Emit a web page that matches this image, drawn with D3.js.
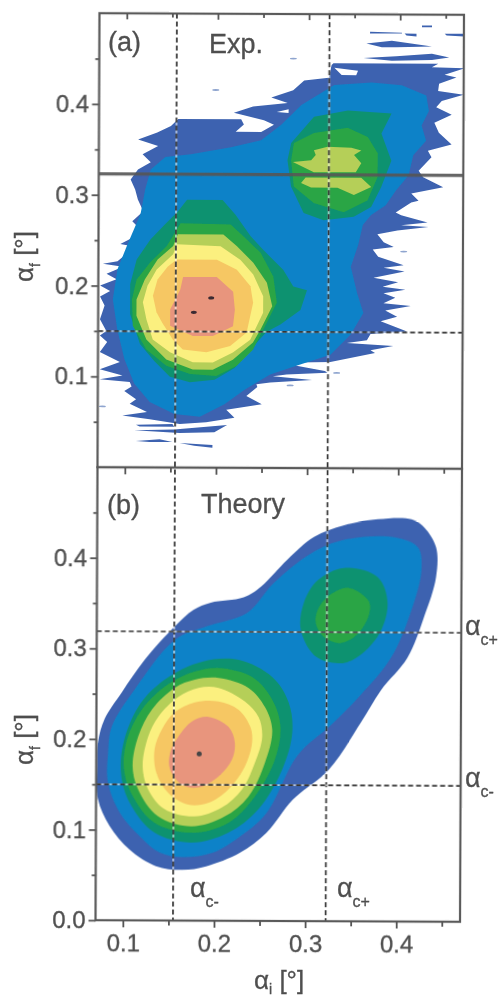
<!DOCTYPE html>
<meta charset="utf-8">
<style>
body { margin: 0; background: #fff; }
text { font-family: 'Liberation Sans', Arial, sans-serif; fill: #4f4f4f; stroke: #4f4f4f; stroke-width: 0.3px; }
.tick text { font-size: 24px; }
.tick line { stroke: #555; stroke-width: 1.8px; }
</style>
<script src="https://d3js.org/d3.v7.min.js"></script>
<div id="my_dataviz"></div>
<script>
// tick values, both panels use the same ones
var majorTicks = [0.1, 0.2, 0.3, 0.4];
var minorTicksX = [0.15, 0.25, 0.35, 0.45];
var yTicksA = [0.1, 0.2, 0.3, 0.4];
var yTicksB = [0.0, 0.1, 0.2, 0.3, 0.4];
var minorTicksY = [0.05, 0.15, 0.25, 0.35, 0.45];

// critical angles
var acMinus = 0.155, acPlus = 0.3225;
var afMinus = 0.150, afPlus = 0.319, afBeam = 0.323;

var expOuter = [[.327,.446],[.442,.446],[.435,.442],[.471,.441],[.449,.434],[.462,.431],[.443,.424],[.442,.416],[.470,.412],[.446,.405],[.440,.398],[.457,.390],[.438,.381],[.443,.370],[.457,.357],[.431,.350],[.435,.343],[.421,.328],[.426,.321],[.448,.310],[.413,.303],[.421,.295],[.413,.293],[.396,.282],[.402,.279],[.431,.271],[.402,.268],[.432,.266],[.398,.262],[.376,.258],[.383,.249],[.394,.244],[.371,.241],[.377,.233],[.405,.224],[.383,.221],[.406,.217],[.372,.210],[.399,.205],[.382,.200],[.407,.197],[.383,.193],[.396,.188],[.383,.182],[.413,.179],[.385,.174],[.398,.167],[.380,.162],[.409,.151],[.369,.148],[.365,.141],[.343,.138],[.394,.135],[.369,.130],[.374,.127],[.325,.117],[.270,.116],[.319,.107],[.322,.105],[.277,.103],[.262,.101],[.305,.097],[.259,.094],[.244,.092],[.245,.089],[.233,.079],[.250,.070],[.211,.064],[.220,.055],[.189,.050],[.160,.048],[.127,.053],[.097,.057],[.124,.061],[.105,.070],[.112,.075],[.099,.084],[.107,.089],[.105,.094],[.072,.097],[.097,.101],[.072,.108],[.094,.116],[.072,.127],[.080,.138],[.072,.145],[.079,.150],[.072,.163],[.077,.178],[.072,.188],[.083,.194],[.072,.200],[.090,.207],[.079,.213],[.097,.221],[.075,.224],[.091,.227],[.110,.243],[.094,.246],[.119,.259],[.107,.271],[.119,.282],[.113,.295],[.110,.306],[.105,.317],[.113,.328],[.127,.336],[.118,.345],[.135,.354],[.113,.361],[.134,.369],[.149,.376],[.157,.384],[.226,.384],[.229,.378],[.220,.370],[.248,.370],[.262,.378],[.251,.383],[.218,.391],[.239,.398],[.277,.402],[.259,.408],[.283,.416],[.295,.427],[.322,.430],[.325,.444]];
var expStreaks = [
  [[.112,.047],[.152,.048],[.154,.045],[.116,.045]],
  [[.110,.041],[.154,.042],[.212,.047],[.198,.039],[.160,.038]],
  [[.112,.029],[.138,.031],[.152,.028],[.127,.028]],
  [[.160,.027],[.196,.025],[.196,.022],[.176,.024]],
  [[.367,.481],[.402,.480],[.402,.479],[.367,.479]],
  [[.405,.479],[.418,.479],[.418,.476],[.407,.477]],
  [[.424,.488],[.435,.488],[.435,.486],[.424,.486]],
  [[.449,.479],[.471,.479],[.471,.476],[.451,.477]],
  [[.363,.468],[.391,.471],[.435,.465],[.396,.464],[.380,.464]],
  [[.360,.452],[.396,.454],[.435,.457],[.454,.453],[.435,.450],[.391,.449]]
];
var expHoles = [
  [[.328,.441],[.354,.438],[.352,.433],[.336,.433]],
  [[.265,.392],[.278,.395],[.278,.391]]
];
var expSpecks = [[.198,.416],[.283,.451],[.075,.067],[.281,.091],[.332,.105],[.405,.239]];
var expBlue = [[.328,.422],[.369,.425],[.402,.422],[.429,.411],[.432,.394],[.424,.378],[.429,.361],[.415,.345],[.410,.323],[.396,.306],[.385,.290],[.369,.279],[.360,.268],[.355,.246],[.347,.222],[.354,.193],[.361,.171],[.347,.147],[.325,.125],[.292,.114],[.259,.103],[.231,.086],[.209,.070],[.182,.056],[.154,.059],[.127,.072],[.110,.092],[.099,.119],[.091,.152],[.086,.185],[.091,.218],[.102,.246],[.116,.279],[.121,.306],[.127,.328],[.143,.342],[.171,.345],[.215,.353],[.248,.361],[.270,.378],[.292,.400]];
var expTealR = [[.300,.380],[.281,.358],[.277,.339],[.281,.310],[.295,.281],[.317,.273],[.350,.277],[.369,.288],[.380,.310],[.391,.339],[.380,.369],[.391,.391],[.343,.394],[.306,.387]];
var expGreenR = [[.343,.375],[.306,.369],[.284,.358],[.281,.339],[.284,.310],[.306,.292],[.339,.282],[.365,.295],[.376,.321],[.376,.347],[.365,.365]];
var expLimeR1 = [[.306,.350],[.321,.354],[.347,.353],[.358,.350],[.350,.345],[.358,.336],[.352,.326],[.306,.326],[.283,.337],[.303,.339],[.308,.345]];
var expLimeR2 = [[.297,.320],[.358,.320],[.369,.310],[.350,.301],[.332,.309],[.303,.309],[.292,.314]];
var expTealL = [[.167,.295],[.206,.295],[.220,.279],[.237,.255],[.251,.240],[.273,.218],[.284,.200],[.299,.196],[.292,.174],[.270,.158],[.255,.150],[.237,.130],[.220,.110],[.198,.097],[.171,.094],[.149,.100],[.132,.117],[.116,.136],[.105,.169],[.105,.202],[.112,.229],[.127,.251],[.143,.268],[.157,.282]];
var expGreenL = [[.160,.269],[.215,.268],[.229,.255],[.248,.237],[.262,.211],[.266,.182],[.255,.160],[.240,.130],[.222,.112],[.200,.101],[.171,.103],[.145,.112],[.123,.130],[.108,.156],[.107,.185],[.112,.207],[.127,.226],[.145,.244]];
var expLimeL = [[.157,.257],[.207,.257],[.222,.244],[.240,.226],[.255,.204],[.261,.178],[.248,.152],[.240,.138],[.218,.119],[.196,.108],[.174,.108],[.145,.119],[.123,.141],[.112,.167],[.112,.185],[.121,.207],[.135,.229],[.152,.244]];
var expYellow = [[.156,.246],[.204,.244],[.226,.229],[.240,.213],[.251,.189],[.251,.171],[.237,.141],[.218,.127],[.196,.116],[.174,.116],[.149,.127],[.130,.141],[.123,.163],[.119,.182],[.124,.200],[.134,.218],[.152,.235]];
var expOrange = [[.156,.229],[.200,.229],[.222,.218],[.237,.200],[.240,.182],[.233,.149],[.215,.134],[.189,.127],[.163,.130],[.152,.141],[.140,.160],[.134,.171],[.130,.189],[.135,.207],[.146,.221]];
var expSalmon = [[.163,.210],[.200,.210],[.218,.194],[.220,.174],[.218,.156],[.196,.145],[.174,.145],[.149,.156],[.149,.174],[.160,.196]];
var expSpots = [[.175,.171],[.194,.187]];

// panel (b) calculated contours
var thOuter = [[.156,.325],[.176,.343],[.195,.351],[.231,.357],[.250,.369],[.279,.399],[.308,.424],[.341,.437],[.378,.444],[.415,.444],[.429,.435],[.442,.413],[.442,.380],[.429,.336],[.411,.291],[.382,.255],[.360,.219],[.325,.167],[.286,.134],[.257,.097],[.228,.075],[.191,.060],[.165,.056],[.136,.060],[.107,.078],[.085,.104],[.072,.134],[.071,.170],[.072,.197],[.079,.222],[.098,.252],[.123,.288]];
var thBlue = [[.156,.310],[.191,.325],[.235,.340],[.264,.373],[.305,.406],[.341,.421],[.396,.424],[.422,.413],[.426,.388],[.415,.343],[.393,.291],[.360,.250],[.327,.216],[.291,.183],[.257,.119],[.228,.093],[.198,.075],[.165,.070],[.140,.075],[.118,.093],[.096,.119],[.083,.152],[.083,.185],[.087,.214],[.112,.255]];
var thTealR = [[.341,.390],[.378,.380],[.389,.351],[.378,.314],[.345,.286],[.312,.291],[.294,.321],[.297,.351],[.312,.376]];
var thGreenR = [[.345,.368],[.368,.354],[.369,.340],[.357,.318],[.338,.307],[.319,.314],[.310,.332],[.319,.354]];
var thTealL = [[.226,.288],[.263,.269],[.281,.241],[.285,.208],[.274,.167],[.248,.123],[.215,.097],[.175,.086],[.134,.097],[.109,.126],[.098,.156],[.099,.192],[.116,.236],[.145,.266],[.186,.286]];
var thGreenL = [[.204,.279],[.241,.269],[.263,.244],[.272,.214],[.266,.178],[.244,.137],[.215,.108],[.175,.097],[.134,.108],[.112,.134],[.101,.163],[.103,.197],[.120,.233],[.149,.261],[.178,.275]];
var thLime = [[.204,.268],[.237,.257],[.255,.236],[.263,.211],[.255,.174],[.237,.137],[.211,.115],[.175,.104],[.138,.115],[.116,.145],[.110,.170],[.116,.203],[.131,.233],[.156,.257],[.178,.266]];
var thYellow = [[.204,.257],[.233,.242],[.248,.225],[.252,.203],[.244,.174],[.230,.145],[.208,.125],[.178,.115],[.145,.123],[.127,.145],[.121,.170],[.127,.203],[.138,.225],[.160,.247],[.182,.257]];
var thOrange = [[.204,.242],[.226,.233],[.239,.214],[.241,.197],[.233,.170],[.215,.145],[.193,.130],[.171,.128],[.149,.141],[.136,.163],[.134,.189],[.142,.211],[.156,.230],[.178,.241]];
var thSalmon = [[.193,.225],[.215,.214],[.222,.197],[.219,.178],[.204,.159],[.182,.147],[.164,.150],[.151,.167],[.151,.185],[.160,.203],[.175,.220]];
var thSpots = [[.183,.184]];

var cDark = "#3c62b0", cBlue = "#0f82c8", cTeal = "#0b9270", cGreen = "#2ca544",
    cLime = "#b5cf58", cYellow = "#fbf07f", cOrange = "#f6c763", cSalmon = "#e8957d";

var svg = d3.select("#my_dataviz").append("svg")
    .attr("width", 500)
    .attr("height", 1000)
    .style("display", "block");

// blur for the scanned look
svg.append("defs").append("filter").attr("id", "soft")
    .attr("filterUnits", "userSpaceOnUse")
    .attr("x", 0).attr("y", 0).attr("width", 500).attr("height", 1000)
    .append("feGaussianBlur").attr("stdDeviation", 0.5);

var root = svg.append("g").attr("filter", "url(#soft)");

// the page is scanned slightly crooked
var g = root.append("g").attr("transform", "rotate(0.25,280,468)");

var frameL = 97.5, frameR = 462, frameT = 14, frameM = 468, frameB = 921;

var x = d3.scaleLinear().domain([0.07, 0.47]).range([frameL, frameR]);
var yA = d3.scaleLinear().domain([0, 0.5]).range([frameM, frameT]);
var yB = d3.scaleLinear().domain([0, 0.5]).range([frameB, frameM]);

function clip(id, y0, y1) {
  svg.select("defs").append("clipPath").attr("id", id)
    .append("rect").attr("x", frameL).attr("y", y0)
    .attr("width", frameR - frameL).attr("height", y1 - y0);
}
clip("clipA", frameT, frameM);
clip("clipB", frameM, frameB);

var layerA = g.append("g").attr("clip-path", "url(#clipA)");
var layerB = g.append("g").attr("clip-path", "url(#clipB)");

var jagged = d3.line().x(function (d) { return x(d[0]); }).y(function (d) { return yA(d[1]); })
    .curve(d3.curveLinearClosed);
var smooth = d3.line().x(function (d) { return x(d[0]); }).y(function (d) { return yB(d[1]); })
    .curve(d3.curveCatmullRomClosed);

function band(layer, gen, pts, color) {
  layer.append("path").attr("d", gen(pts)).attr("fill", color);
}

band(layerA, jagged, expOuter, cDark);
expStreaks.forEach(function (s) { band(layerA, jagged, s, cDark); });
expHoles.forEach(function (s) { band(layerA, jagged, s, "#fff"); });
layerA.selectAll(".speck").data(expSpecks).enter().append("ellipse")
    .attr("class", "speck")
    .attr("cx", function (d) { return x(d[0]); })
    .attr("cy", function (d) { return yA(d[1]); })
    .attr("rx", 3.5).attr("ry", 0.9).attr("fill", "#8fa5cf");
band(layerA, jagged, expBlue, cBlue);
band(layerA, jagged, expTealR, cTeal);
band(layerA, jagged, expGreenR, cGreen);
band(layerA, jagged, expLimeR1, cLime);
band(layerA, jagged, expLimeR2, cLime);
band(layerA, jagged, expTealL, cTeal);
band(layerA, jagged, expGreenL, cGreen);
band(layerA, jagged, expLimeL, cLime);
band(layerA, jagged, expYellow, cYellow);
band(layerA, jagged, expOrange, cOrange);
band(layerA, jagged, expSalmon, cSalmon);
layerA.selectAll(".spot").data(expSpots).enter().append("ellipse")
    .attr("class", "spot")
    .attr("cx", function (d) { return x(d[0]); })
    .attr("cy", function (d) { return yA(d[1]); })
    .attr("rx", 3).attr("ry", 1.6).attr("fill", "#3a2a30");

band(layerB, smooth, thOuter, cDark);
band(layerB, smooth, thBlue, cBlue);
band(layerB, smooth, thTealR, cTeal);
band(layerB, smooth, thGreenR, cGreen);
band(layerB, smooth, thTealL, cTeal);
band(layerB, smooth, thGreenL, cGreen);
band(layerB, smooth, thLime, cLime);
band(layerB, smooth, thYellow, cYellow);
band(layerB, smooth, thOrange, cOrange);
band(layerB, smooth, thSalmon, cSalmon);
layerB.selectAll(".spot").data(thSpots).enter().append("circle")
    .attr("class", "spot")
    .attr("cx", function (d) { return x(d[0]); })
    .attr("cy", function (d) { return yB(d[1]); })
    .attr("r", 2.5).attr("fill", "#444");

// dashed guide lines, with the pale halo they have on the coloured areas
function dashed(x1, x2, y1, y2) {
  g.append("line").attr("x1", x1).attr("x2", x2).attr("y1", y1).attr("y2", y2)
    .attr("stroke", "#fff").attr("stroke-width", 1.8).attr("stroke-opacity", 0.6);
  g.append("line").attr("x1", x1).attr("x2", x2).attr("y1", y1).attr("y2", y2)
    .attr("stroke", "#333").attr("stroke-width", 1.7).style("stroke-dasharray", "5, 3");
}
dashed(x(acMinus), x(acMinus), frameT, frameB);
dashed(x(acPlus), x(acPlus), frameT, frameB);
dashed(frameL, frameR, yA(afMinus), yA(afMinus));
dashed(frameL, frameR, yB(afPlus), yB(afPlus));
dashed(frameL, frameR, yB(afMinus), yB(afMinus));

g.append("line").attr("x1", frameL).attr("x2", frameR)
    .attr("y1", yA(afBeam)).attr("y2", yA(afBeam))
    .attr("stroke", "#555").attr("stroke-width", 3.2).attr("stroke-opacity", 0.9);

// frames
[[frameT, frameM], [frameM, frameB]].forEach(function (r) {
  g.append("rect").attr("x", frameL).attr("y", r[0])
    .attr("width", frameR - frameL).attr("height", r[1] - r[0])
    .attr("fill", "none").attr("stroke", "#5a5a5a").attr("stroke-width", 2.2);
});

// axes
function axis(gen, pos, vals, size, labels, pad) {
  var a = g.append("g").attr("transform", pos)
    .call(gen.tickValues(vals).tickSize(size).tickPadding(pad)
      .tickFormat(labels ? d3.format(".1f") : ""));
  a.select(".domain").remove();
  return a;
}
var tx = function (v) { return "translate(0," + v + ")"; };
var ty = "translate(" + frameL + ",0)";

// panel a: ticks hang down from the top edge and from the shared edge
axis(d3.axisBottom(x), tx(frameT), majorTicks, 6, false, 0);
axis(d3.axisBottom(x), tx(frameT), minorTicksX, 4, false, 0);
axis(d3.axisBottom(x), tx(frameM), majorTicks, 7, false, 0);
axis(d3.axisBottom(x), tx(frameM), minorTicksX, 5, false, 0);
axis(d3.axisLeft(yA), ty, yTicksA, 7, true, 3);
axis(d3.axisLeft(yA), ty, minorTicksY, 4, false, 0);

// panel b
axis(d3.axisBottom(x), tx(frameB), majorTicks, 7, true, 7);
axis(d3.axisBottom(x), tx(frameB), minorTicksX, 5, false, 0);
axis(d3.axisLeft(yB), ty, yTicksB, 7, true, 3);
axis(d3.axisLeft(yB), ty, minorTicksY, 4, false, 0);

// labels
function label(txt, px, py, size) {
  return root.append("text").attr("x", px).attr("y", py)
    .style("font-size", size + "px").text(txt);
}
label("(a)", 108, 51, 27);
label("Exp.", 209, 53, 27);
label("(b)", 107, 514, 27);
label("Theory", 201, 513, 27);

function alphaLabel(sub, px, py, size, subSize, tail, drop) {
  var t = root.append("text").attr("x", px).attr("y", py).style("font-size", size + "px");
  t.append("tspan").text("\u03b1");
  t.append("tspan").attr("dy", drop).style("font-size", subSize + "px").text(sub);
  if (tail) {
    t.append("tspan").attr("dy", -drop).text(tail);
  }
  return t;
}
alphaLabel("c+", 465, 635, 27, 16, null, 10);
alphaLabel("c-", 465, 787, 27, 16, null, 10);
alphaLabel("c-", 190, 897, 27, 16, null, 10);
alphaLabel("c+", 337, 897, 27, 16, null, 10);
alphaLabel("i", 254, 989, 26, 14, " [\u00b0]", 5);
alphaLabel("f", 0, 0, 26, 14, " [\u00b0]", 7).attr("transform", "translate(33,282) rotate(-90)");
alphaLabel("f", 0, 0, 26, 14, " [\u00b0]", 7).attr("transform", "translate(33,765) rotate(-90)");
</script>
